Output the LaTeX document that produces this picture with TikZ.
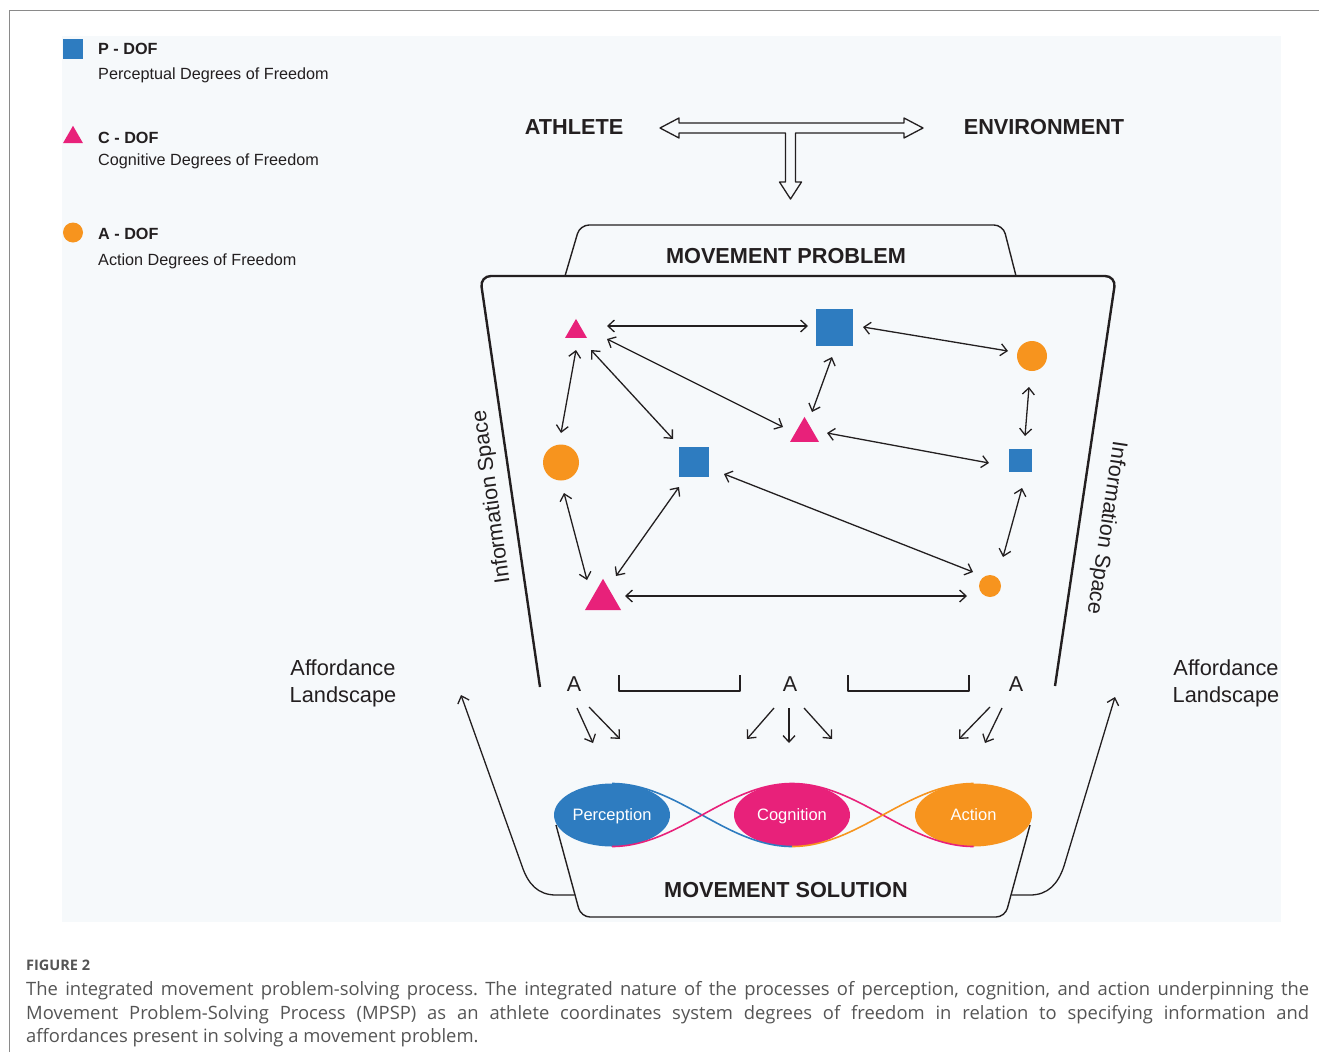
\documentclass[tikz,border=0pt]{standalone}
\usepackage{fontspec}
\setmainfont{Liberation Sans}
\newfontfamily\capfont{Open Sans}
\usetikzlibrary{arrows.meta,shapes.geometric,calc}
\definecolor{pblue}{HTML}{2E7CC0}
\definecolor{cpink}{HTML}{E8217A}
\definecolor{aorange}{HTML}{F7941E}
\definecolor{ink}{HTML}{231F20}
\definecolor{panelbg}{HTML}{F6F9FB}
\definecolor{capgray}{HTML}{555555}
\definecolor{framegray}{HTML}{8A8A8A}
\newcommand\fsz[2]{\fontsize{#1}{#2}\selectfont}
\frenchspacing
\begin{document}
\begin{tikzpicture}[x=1pt, y=-1pt, line join=round,
  txt/.style={inner sep=0pt, text=ink},
  psq/.style={rectangle, fill=pblue, draw=none, inner sep=0pt, minimum size=#1},
  ctri/.style={regular polygon, regular polygon sides=3, fill=cpink, draw=none, inner sep=0pt, minimum size=#1},
  acirc/.style={circle, fill=aorange, draw=none, inner sep=0pt, minimum size=#1},
  link/.style={draw=ink, line width=1.3pt, {Straight Barb[length=6.5pt,width=12pt]}-{Straight Barb[length=6.5pt,width=12pt]}},
  single/.style={draw=ink, line width=1.3pt, -{Straight Barb[length=6.5pt,width=12pt]}},
  outline/.style={draw=ink, line width=1.4pt},
  blob/.style={ellipse, inner sep=0pt, minimum width=116pt, minimum height=63pt, text=white, font=\fsz{16.5}{20}, text depth=0pt},
  legtitle/.style={txt, anchor=base west, font=\bfseries\fsz{16.2}{19}},
  legtext/.style={txt, anchor=base west, font=\fsz{16.2}{19}},
  bigB/.style={txt, anchor=base, font=\bfseries\fsz{21.7}{26}},
  midR/.style={txt, font=\fsz{21.5}{27}},
]
\useasboundingbox (0,0) rectangle (1319,1052);
\fill[white] (0,0) rectangle (1319,1052);
\fill[panelbg] (62,36) rectangle (1281,922);
\draw[framegray, line width=1pt] (9.5,1052) -- (9.5,10.5) -- (1319,10.5);

% legend
\node[psq=20pt] (lgP) at (73,49) {};
\node[ctri=23pt] (lgC) at (73,137.3) {};
\node[acirc=20pt] (lgA) at (73,232.5) {};
\node[legtitle] (lgPt) at (98,54) {P - DOF};
\node[legtext] (lgPd) at (98,79) {Perceptual Degrees of Freedom};
\node[legtitle] (lgCt) at (98,143) {C - DOF};
\node[legtext] (lgCd) at (98,165) {Cognitive Degrees of Freedom};
\node[legtitle] (lgAt) at (98,239) {A - DOF};
\node[legtext] (lgAd) at (98,265) {Action Degrees of Freedom};

% athlete / environment
\node[bigB] (ath) at (574,134) {ATHLETE};
\node[bigB] (env) at (1044,134) {ENVIRONMENT};
\draw[outline, line width=1.3pt, fill=panelbg] (660,128) -- (679,118) -- (679,123) -- (904,123) -- (904,118) -- (923,128) -- (904,138) -- (904,133) -- (795.5,133) -- (795.5,182) -- (801.5,182) -- (790.5,199) -- (779.5,182) -- (785.5,182) -- (785.5,133) -- (679,133) -- (679,138) -- cycle;

% movement problem tab and information space
\draw[outline, rounded corners=9pt] (565,276) -- (580,225) -- (1003,225) -- (1016,276);
\node[bigB] (mp) at (786,263) {MOVEMENT PROBLEM};
\draw[draw=ink, line width=2.4pt, rounded corners=11pt] (540,687) -- (480,276) -- (1116,276) -- (1055,686);
\node[midR, rotate=98] (isl) at (492,497) {Information Space};
\node[midR, rotate=-98.5] (isr) at (1106,528) {Information Space};

% degrees of freedom network
\node[ctri=25.4pt] (T1) at (576,331.6) {};
\node[psq=37pt] (S1) at (834.5,327) {};
\node[acirc=30pt] (C1) at (1032,356) {};
\node[ctri=33.5pt] (T2) at (804.5,433.6) {};
\node[acirc=36pt] (C2) at (561,462.5) {};
\node[psq=30pt] (S2) at (694,462) {};
\node[psq=23pt] (S3) at (1020.5,460.5) {};
\node[ctri=41.6pt] (T3) at (603,599.6) {};
\node[acirc=22pt] (C3) at (990,586) {};

\draw[link] ($(T1)+(31,-5.6)$) -- ($(S1)+(-26.5,-1)$);
\draw[link] ($(T1)+(31,7.4)$) -- ($(T2)+(-21.5,-6.6)$);
\draw[link] ($(T1)+(15,18.4)$) -- ($(S2)+(-21,-23)$);
\draw[link] ($(T1)+(0,18.4)$) -- ($(C2)+(0,-29.5)$);
\draw[link] ($(C2)+(3,30.5)$) -- ($(T3)+(-16,-19.6)$);
\draw[link] ($(S2)+(-15,25)$) -- ($(T3)+(13,-23.6)$);
\draw[link] ($(T3)+(22,-3.6)$) -- ($(C3)+(-23,10)$);
\draw[link] ($(S2)+(30,12)$) -- ($(C3)+(-17,-14)$);
\draw[link] ($(S1)+(-2.5,30)$) -- ($(T2)+(7.5,-21.6)$);
\draw[link] ($(S1)+(28.5,0)$) -- ($(C1)+(-24,-5)$);
\draw[link] ($(C1)+(-3,31)$) -- ($(S3)+(4.5,-24.5)$);
\draw[link] ($(T2)+(22.5,-0.6)$) -- ($(S3)+(-31.5,2.5)$);
\draw[link] ($(S3)+(1.5,27.5)$) -- ($(C3)+(13,-29)$);

% affordances
\node[midR, anchor=base] (A1) at (574,691) {A};
\node[midR, anchor=base] (A2) at (790,691) {A};
\node[midR, anchor=base] (A3) at (1016,691) {A};
\draw[outline] (619,675) -- (619,691) -- (740,691) -- (740,675);
\draw[outline] (848,675) -- (848,691) -- (969,691) -- (969,675);
\draw[single] ($(A1.base)+(3,17)$) -- ($(A1.base)+(19,52)$);
\draw[single] ($(A1.base)+(15,16)$) -- ($(A1.base)+(46,48)$);
\draw[single] ($(A2.base)+(-16,17)$) -- ($(A2.base)+(-43,48)$);
\draw[single] ($(A2.base)+(-1,17)$) -- ($(A2.base)+(-1,52)$);
\draw[single] ($(A2.base)+(14,17)$) -- ($(A2.base)+(42,48)$);
\draw[single] ($(A3.base)+(-26,16)$) -- ($(A3.base)+(-57,48)$);
\draw[single] ($(A3.base)+(-14,17)$) -- ($(A3.base)+(-31,52)$);

\node[txt, anchor=base, font=\fsz{21.8}{27}] (affL) at (343,675) {\parbox[t]{130pt}{\centering Affordance\\Landscape}};
\node[txt, anchor=base, font=\fsz{21.8}{27}] (affR) at (1226,675) {\parbox[t]{130pt}{\centering Affordance\\Landscape}};

% movement solution container
\draw[outline, rounded corners=9pt] (556,825) -- (581,917) -- (1005,917) -- (1030,825);
\coordinate (solL) at (574.5,895);
\coordinate (solR) at (1011.6,895);
\coordinate (tipL) at (461,695);
\coordinate (tipR) at (1115,697);
\draw[single] (solL) -- (556,895) .. controls (538,895) and (528,884) .. (522,866) -- (tipL);
\draw[single] (solR) -- (1030,895) .. controls (1048,895) and (1058,884) .. (1064,866) -- (tipR);

\node[blob, fill=pblue] (per) at (612,815) {Perception};
\node[blob, fill=cpink] (cog) at (792,815) {Cognition};
\node[blob, fill=aorange, minimum width=117pt] (act) at (973.5,815) {Action};
\draw[pblue, line width=1.6pt] (612,783.5) .. controls (677.5,783.5) and (726.5,846.5) .. (792,846.5);
\draw[cpink, line width=1.6pt] (612,846.5) .. controls (677.5,846.5) and (726.5,783.5) .. (792,783.5) .. controls (858,783.5) and (907.5,846.5) .. (973.5,846.5);
\draw[aorange, line width=1.6pt] (792,846.5) .. controls (858,846.5) and (907.5,783.5) .. (973.5,783.5);
\node[bigB] (ms) at (786,897) {MOVEMENT SOLUTION};

% caption
\node[anchor=base west, inner sep=0pt, text=capgray, font=\capfont\bfseries\fsz{14.5}{17}] (fig) at (26,970.5) {FIGURE 2};
\node[anchor=base west, inner sep=0pt, text=capgray, font=\capfont\fsz{18.4}{23.5}] (cap) at (26,995.5) {\parbox[t]{1283pt}{%
\makebox[1283pt][s]{The integrated movement problem-solving process. The integrated nature of the processes of perception, cognition, and action underpinning the}\\
\makebox[1283pt][s]{Movement Problem-Solving Process (MPSP) as an athlete coordinates system degrees of freedom in relation to specifying information and}\\
affordances present in solving a movement problem.}};
\end{tikzpicture}
\end{document}
